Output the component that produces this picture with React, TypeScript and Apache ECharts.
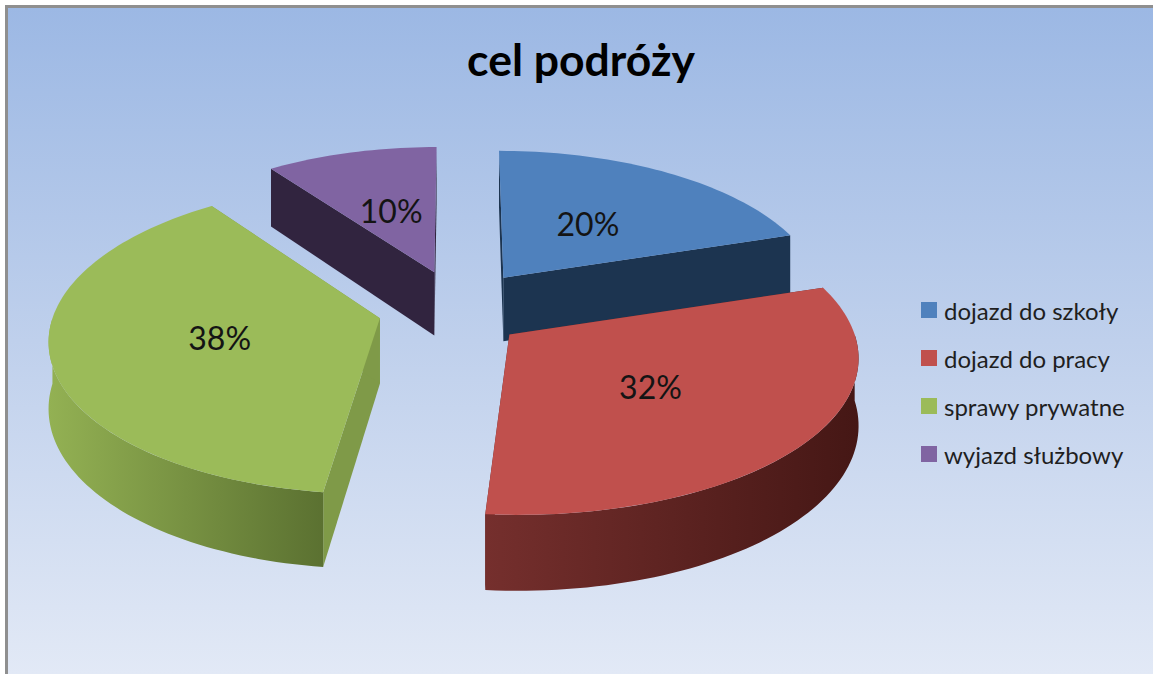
import React, { useEffect, useRef } from "react";
import * as echarts from "echarts";

const titleText = "cel podróży";
const categories = ["dojazd do szkoły", "dojazd do pracy", "sprawy prywatne", "wyjazd służbowy"];
const shares = [20, 32, 38, 10];
const topColors = ["#4f81bd", "#c0504d", "#9bbb59", "#8064a2"];
const cutColors = ["#1c3450", "#5f2523", "#7f9a48", "#31243f"];
const wallFrom = ["#1c3450", "#752f2d", "#93b153", "#31243f"];
const wallTo = ["#1c3450", "#451715", "#5b7131", "#31243f"];
const drawOrder = [2, 3, 4, 1];
const labelRadius = [0.49, 0.5, 0.494, 0.49];
const sliceScaleX = [0.957, 1.01, 0.968, 0.943];
const sliceScaleY = [0.96, 0.98, 0.975, 0.954];
const sliceShiftX = [5, -4, -7, -1];
const sliceShiftY = [-6, 3, 0, -7];
const endTrim = [0, -2.5, 0, 0];

const CX = 457, CY = 310, A = 336, B = 155, K = 0.126, E = 0.214, H = 65;
const rad = (d: number) => (d * Math.PI) / 180;

function project(x: number, y: number): number[] {
  const s = 1 / (1 - K * y);
  return [CX + A * x * s, CY + B * y * s, s];
}

function sliceParts(index: number, value: number, total: number) {
  let before = 0;
  for (let i = 0; i < index; i++) before += shares[i];
  const a0 = (before / total) * 360;
  const a1 = ((before + value) / total) * 360 + endTrim[index];
  const mid = rad((a0 + ((before + value) / total) * 360) / 2);
  const ox = E * Math.sin(mid);
  const oy = -E * Math.cos(mid);
  const base = project(ox, oy);
  const place = (x: number, y: number, down = 0) => {
    const p = project(x, y);
    return [
      base[0] + (p[0] - base[0]) * sliceScaleX[index] + sliceShiftX[index],
      base[1] + (p[1] - base[1]) * sliceScaleY[index] + sliceShiftY[index] + down * p[2],
    ];
  };
  const rim = (deg: number, down = 0) => place(ox + Math.sin(rad(deg)), oy - Math.cos(rad(deg)), down);
  const arc = (from: number, to: number, down = 0) => {
    const n = Math.max(2, Math.ceil(Math.abs(to - from) / 1.5));
    const pts: number[][] = [];
    for (let i = 0; i <= n; i++) pts.push(rim(from + ((to - from) * i) / n, down));
    return pts;
  };
  const apex = place(ox, oy);
  const apexLow = place(ox, oy, H);
  const children: any[] = [];
  const cut = (deg: number) => ({
    type: "polygon",
    shape: { points: [apex, rim(deg), rim(deg, H), apexLow] },
    style: { fill: cutColors[index] },
  });
  children.push(cut(a0), cut(a1));
  const w0 = Math.max(a0, 90);
  const w1 = Math.min(a1, 270);
  if (w1 > w0) {
    children.push({
      type: "polygon",
      shape: { points: [...arc(w0, w1), ...arc(w1, w0, H)] },
      style: {
        fill: new echarts.graphic.LinearGradient(0, 0, 1, 0, [
          { offset: 0, color: wallFrom[index] },
          { offset: 1, color: wallTo[index] },
        ]),
      },
    });
  }
  children.push({
    type: "polygon",
    shape: { points: [apex, ...arc(a0, a1)] },
    style: { fill: topColors[index] },
  });
  const lr = labelRadius[index];
  const lp = place(ox + lr * Math.sin(mid), oy - lr * Math.cos(mid));
  children.push({
    type: "text",
    x: lp[0],
    y: lp[1],
    style: {
      text: `${value}%`,
      fill: "#141414",
      fontFamily: "Lato",
      fontSize: 32,
      align: "center",
      verticalAlign: "middle",
    },
  });
  return { type: "group", children };
}

export default function App() {
  const ref = useRef<HTMLDivElement>(null);
  useEffect(() => {
    const chart = echarts.init(ref.current!, null, { renderer: "svg" });
    const total = shares.reduce((a, b) => a + b, 0);
    chart.setOption({
      animation: false,
      backgroundColor: "#ffffff",
      title: {
        text: titleText,
        left: 576,
        top: 31,
        textAlign: "center",
        textStyle: { fontFamily: "Lato", fontSize: 44.5, fontWeight: "bold", color: "#000000" },
      },
      legend: {
        left: 916,
        top: 293,
        orient: "vertical",
        icon: "rect",
        itemWidth: 16,
        itemHeight: 16,
        itemGap: 24,
        selectedMode: false,
        data: categories,
        textStyle: { fontFamily: "Lato", fontSize: 24, color: "#1f1f1f", height: 24, lineHeight: 24, padding: [0, 0, 0, 2] },
      },
      graphic: [
        { type: "rect", z: -10, shape: { x: 5, y: 5, width: 1148, height: 669 }, style: { fill: "#8f8f8f" } },
        {
          type: "rect",
          z: -9,
          shape: { x: 8, y: 8, width: 1145, height: 666 },
          style: {
            fill: new echarts.graphic.LinearGradient(0, 0, 0, 1, [
              { offset: 0, color: "#9cb8e4" },
              { offset: 0.5, color: "#bfd0ec" },
              { offset: 1, color: "#e2e9f6" },
            ]),
          },
        },
      ],
      series: categories.map((name, i) => ({
        type: "custom",
        name,
        coordinateSystem: "none",
        z: drawOrder[i],
        itemStyle: { color: topColors[i] },
        data: [[shares[i]]],
        renderItem: (_p: any, api: any) => sliceParts(i, api.value(0), total),
      })),
    });
    return () => chart.dispose();
  }, []);
  return <div ref={ref} style={{ position: "fixed", left: 0, top: 0, width: 1153, height: 674 }} />;
}
